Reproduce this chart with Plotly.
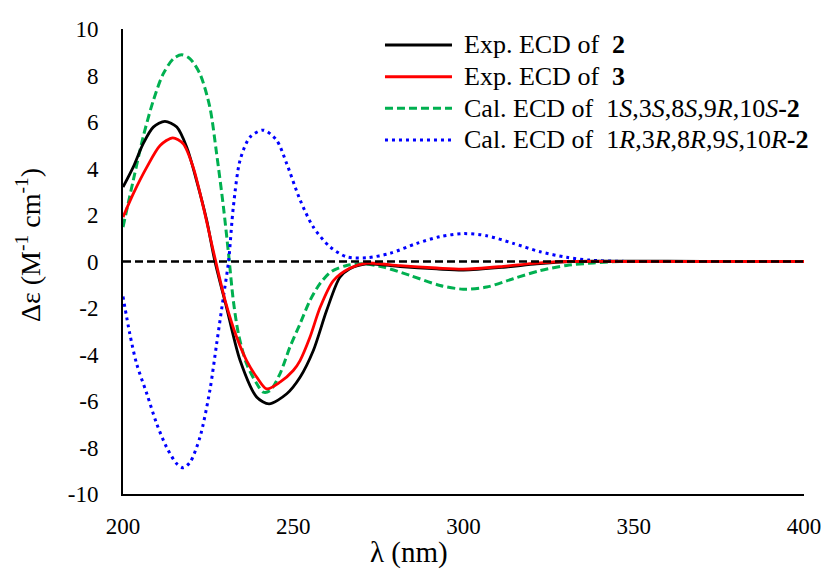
import plotly.graph_objects as go

# Wavelength grids (nm) and ECD values (Δε, M^-1 cm^-1)
wl_exp2 = [200, 203, 205.9, 208.9, 212.3, 215.8, 218.7, 221.6, 224.6, 227.0, 230.4, 234.4,
           239.3, 242.9, 248.1, 252.0, 255.9, 259.8, 263.7, 266.6, 271.6, 281.4, 292.1,
           300, 311.7, 321.5, 331.3, 345, 360, 380, 400]
de_exp2 = [3.2, 4.06, 5.06, 5.78, 6.03, 5.78, 4.92, 3.48, 1.76, 0.0, -1.97, -4.26,
           -5.84, -6.12, -5.69, -4.98, -3.83, -2.11, -0.68, -0.31, -0.1, -0.22, -0.32,
           -0.37, -0.25, -0.1, 0.0, 0.01, 0.01, 0.0, 0.0]

wl_exp3 = [200, 203, 207, 210.9, 214.6, 217.7, 220.6, 223.6, 226.5, 230.0, 233.4, 236.3,
           239.3, 242.2, 246.1, 250.0, 252.0, 254.9, 257.9, 261.8, 266.6, 271.6, 281.4,
           292.1, 300, 311.7, 321.5, 331.3, 345, 360, 380, 400]
de_exp3 = [1.91, 2.91, 4.06, 4.99, 5.32, 5.06, 4.06, 2.34, 0.47, -1.68, -3.26, -4.26,
           -4.98, -5.48, -5.19, -4.69, -4.26, -3.26, -1.97, -0.82, -0.29, -0.07, -0.18,
           -0.28, -0.33, -0.21, -0.07, 0.0, 0.0, 0.0, 0.0, 0.0]

wl_cal_s = [200, 203, 205.9, 208.9, 211.8, 214.8, 217.2, 219.7, 222.6, 225.5, 227.5, 229.5,
            231.0, 232.4, 233.9, 236.3, 239.3, 241.2, 243.2, 246.1, 249.0, 252.0, 254.9,
            257.8, 261.3, 265.7, 270.5, 276.4, 284.3, 293.1, 299.9, 306.8, 314.6, 322.5,
            330.3, 338.1, 346, 360, 380, 400]
de_cal_s = [1.48, 3.48, 5.35, 6.92, 8.07, 8.72, 8.89, 8.72, 8.07, 6.64, 4.63, 2.34,
            0.33, -1.68, -3.11, -4.4, -5.26, -5.62, -5.55, -4.83, -3.69, -2.68, -1.68,
            -0.96, -0.42, -0.17, -0.1, -0.24, -0.6, -1.03, -1.19, -1.1, -0.74, -0.39,
            -0.17, -0.06, 0.0, 0.0, 0.0, 0.0]

wl_cal_r = [200, 202, 204, 207, 209.9, 212.8, 215.8, 217.7, 219.7, 222.6, 225.5, 227.5,
            229.5, 231.0, 232.4, 234.4, 237.3, 241.2, 245.1, 248.1, 252.0, 255.9, 260.8,
            265.7, 271.6, 278.4, 286.3, 293.1, 300, 306.8, 314.6, 322.5, 330.3, 337.0,
            345, 360, 380, 400]
de_cal_r = [-1.51, -3.11, -4.4, -5.69, -6.98, -7.99, -8.7, -8.87, -8.63, -7.56, -5.55, -3.54,
            -1.51, 0.0, 2.34, 4.37, 5.35, 5.65, 5.22, 4.2, 2.65, 1.48, 0.63,
            0.2, 0.16, 0.35, 0.78, 1.07, 1.2, 1.11, 0.78, 0.42, 0.18, 0.06,
            0.01, 0.0, 0.0, 0.0]

baseline_wl = [200, 400]
baseline_de = [0, 0]

x_ticks = [200, 250, 300, 350, 400]
y_ticks = [-10, -8, -6, -4, -2, 0, 2, 4, 6, 8, 10]

legend_labels = [
    "Exp. ECD of\u00a0 <b>2</b>",
    "Exp. ECD of\u00a0 <b>3</b>",
    "Cal. ECD of\u00a0 1<i>S</i>,3<i>S</i>,8<i>S</i>,9<i>R</i>,10<i>S</i><b>-2</b>",
    "Cal. ECD of\u00a0 1<i>R</i>,3<i>R</i>,8<i>R</i>,9<i>S</i>,10<i>R</i><b>-2</b>",
]

FONT = "Liberation Serif"

styles = [
    dict(color="#000000", width=2.8, dash="solid"),
    dict(color="#FF0000", width=2.8, dash="solid"),
    dict(color="#00B050", width=3, dash="8px,4px"),
    dict(color="#0000FF", width=3, dash="3px,4px"),
]

fig = go.Figure()

series = [(wl_cal_s, de_cal_s, 2), (wl_cal_r, de_cal_r, 3),
          (wl_exp2, de_exp2, 0), (wl_exp3, de_exp3, 1)]
for xs, ys, k in series:
    fig.add_trace(go.Scatter(x=xs, y=ys, mode="lines",
                             line=dict(shape="spline", smoothing=0.8, **styles[k]),
                             name=legend_labels[k], showlegend=False))

# Zero reference line, drawn on top of the spectra
fig.add_trace(go.Scatter(x=baseline_wl, y=baseline_de, mode="lines",
                         line=dict(color="#000000", width=2.5, dash="8px,4px"),
                         showlegend=False, hoverinfo="skip"))

# Legend drawn as line samples plus labels (paper coordinates)
row_y = [0.9656, 0.8975, 0.8294, 0.7613]
for k, (lab, yy) in enumerate(zip(legend_labels, row_y)):
    st = styles[k]
    fig.add_shape(type="line", xref="paper", yref="paper",
                  x0=0.3847, x1=0.4831, y0=yy, y1=yy,
                  line=dict(color=st["color"], width=3, dash=st["dash"]))
    fig.add_annotation(xref="paper", yref="paper", x=0.4978, y=yy,
                       xanchor="left", yanchor="middle", showarrow=False,
                       text=lab, font=dict(family=FONT, size=26, color="#000000"))

# Axis titles
fig.add_annotation(xref="paper", yref="paper", x=0.42, y=-0.125,
                   xanchor="center", yanchor="middle", showarrow=False,
                   text="λ (nm)", font=dict(family=FONT, size=29, color="#000000"))
fig.add_annotation(xref="paper", yref="paper", x=-0.138, y=0.5355,
                   xanchor="center", yanchor="middle", showarrow=False, textangle=-90,
                   text="Δε (M<sup>-1</sup> cm<sup>-1</sup>)",
                   font=dict(family=FONT, size=28, color="#000000"))

fig.update_xaxes(range=[200, 400], tickvals=x_ticks, ticktext=[str(v) for v in x_ticks],
                 ticks="", showgrid=False, automargin=False,
                 zeroline=False, showline=True, linecolor="#000000", linewidth=2,
                 tickfont=dict(family=FONT, size=23, color="#000000"),
                 ticklabelstandoff=10)
fig.update_yaxes(range=[-10, 10], tickvals=y_ticks, ticktext=[str(v) for v in y_ticks],
                 ticks="", showgrid=False, automargin=False,
                 zeroline=False, showline=True, linecolor="#000000", linewidth=2,
                 tickfont=dict(family=FONT, size=23, color="#000000"),
                 ticklabelstandoff=18)

fig.update_layout(width=824, height=570, autosize=False,
                  font=dict(family=FONT, color="#000000"),
                  margin=dict(l=123, r=20, t=29, b=76),
                  paper_bgcolor="#FFFFFF", plot_bgcolor="#FFFFFF",
                  showlegend=False)

fig.write_html("out.html")
